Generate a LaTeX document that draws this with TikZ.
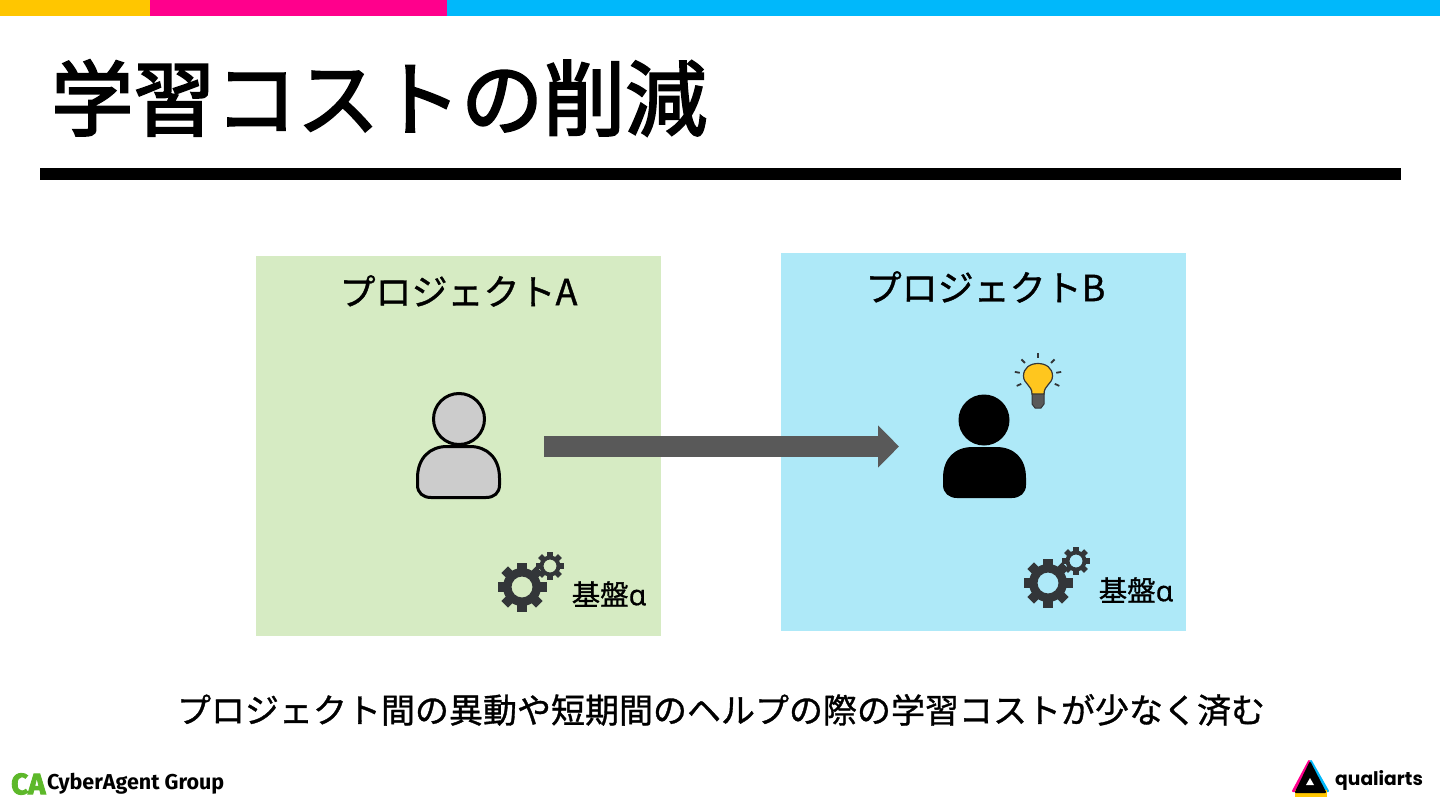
\documentclass[tikz,border=0pt]{standalone}
\usepackage{fontspec}
\setmainfont[FakeBold=1]{Noto Sans CJK JP}
\newfontfamily\titlefont[FakeBold=2.6]{Noto Sans CJK JP}
\newfontfamily\latinfont[FakeBold=0.4]{Noto Sans}
\newfontfamily\logofont{Fira Sans}
\newfontfamily\cafont[FakeBold=3]{Fira Sans}
\newfontfamily\artsfont{Poppins}
\usetikzlibrary{arrows.meta}
\definecolor{barY}{HTML}{FFC600}
\definecolor{barP}{HTML}{FF008C}
\definecolor{barB}{HTML}{00B8FB}
\definecolor{boxA}{HTML}{D6EBC3}
\definecolor{boxB}{HTML}{AEE9F8}
\definecolor{gearC}{HTML}{333639}
\definecolor{caG}{HTML}{5DB82A}
\definecolor{bulbC}{HTML}{FFC61E}
\tikzset{
  panel/.style={minimum width=405pt,inner sep=0pt,outer sep=0pt,anchor=north west},
  panelname/.style={font=\fontsize{36}{36}\selectfont,inner sep=0pt},
  kiban/.style={font=\fontsize{28.5}{28.5}\selectfont,inner sep=0pt},
  logotext/.style={inner sep=0pt,anchor=west}
}
% one gear: centre, tooth radius, body radius, hole radius, number of teeth
\newcommand{\gearwheel}[5]{
  \begin{scope}[shift={(#1)}]
    \foreach \a in {1,...,#5}
      \fill[gearC,rotate=\a*360/#5] (-#2*.19,#3*.9)--(-#2*.19,#2)--(#2*.19,#2)--(#2*.19,#3*.9)--cycle;
    \fill[gearC,even odd rule] (0,0) circle (#3) (0,0) circle (#4);
  \end{scope}
}
\begin{document}
\begin{tikzpicture}[x=1pt,y=-1pt,>=stealth]
\useasboundingbox (0,0) rectangle (1440,810);
% top bars
\fill[barY](0,0) rectangle (150,16);
\fill[barP](150,0) rectangle (447,16);
\fill[barB](447,0) rectangle (1440,16);
\node[inner sep=0pt,anchor=west,font=\titlefont\fontsize{82}{82}\selectfont] (title) at (51,98) {学習コストの削減};
\fill(40,168) rectangle (1401,180);
% panels
\node[panel,fill=boxA,minimum height=380pt] (prjA) at (256,256) {};
\node[panel,fill=boxB,minimum height=378pt] (prjB) at (781,253) {};
\node[panelname] (nameA) at (458.5,291) {プロジェクトA};
\node[panelname] (nameB) at (985.5,287) {プロジェクトB};
% person A
\fill[black!20,draw=black,line width=3pt](459,419) circle (25.5);
\draw[fill=black!20,line width=3pt]
  (417.5,478) .. controls (417.5,458) and (430,446.5) .. (447,446.5)
  -- (470,446.5) .. controls (487,446.5) and (499.5,458) .. (499.5,478)
  -- (499.5,485) .. controls (499.5,493) and (494,497.5) .. (486,497.5)
  -- (431,497.5) .. controls (423,497.5) and (417.5,493) .. (417.5,485) -- cycle;
% person B
\fill(984,420) circle (25.5);
\fill
  (943,478) .. controls (943,458) and (955,447) .. (973,447)
  -- (996,447) .. controls (1014,447) and (1026,458) .. (1026,478)
  -- (1026,485) .. controls (1026,493) and (1020,498) .. (1012,498)
  -- (957,498) .. controls (949,498) and (943,493) .. (943,485) -- cycle;
% bulb
\fill[black!65,draw=gearC,line width=1pt]
  (1032,393) -- (1044,393) -- (1044,404) -- (1041,408) -- (1035,408) -- (1032,404) -- cycle;
\draw[fill=bulbC,draw=gearC,line width=1.2pt]
  (1032,394) .. controls (1032,385) and (1023.5,384) .. (1023.5,376)
  .. controls (1023.5,368) and (1030,363.5) .. (1038,363.5)
  .. controls (1046,363.5) and (1052.5,368) .. (1052.5,376)
  .. controls (1052.5,384) and (1044,385) .. (1044,394) -- cycle;
\foreach \a in {-135,-90,-45,-10,25,155,190}
  \draw[gearC,line width=1.8pt] (1038,376)++(\a:18.5) -- ++(\a:5);
% gears
\gearwheel{522,587}{24.5}{19}{10.5}{8}
\gearwheel{550,566}{14}{10.5}{6.5}{8}
\gearwheel{1048,583}{24.5}{19}{10.5}{8}
\gearwheel{1076,561}{14}{10.5}{6.5}{8}
\node[kiban,anchor=west] (kibanA) at (571.5,594) {基盤{\latinfont α}};
\node[kiban,anchor=west] (kibanB) at (1098.5,590) {基盤{\latinfont α}};
% move
\coordinate (from) at (544,446.5);
\coordinate (to) at (899,446.5);
\draw[color=black!65,line width=21pt,-{Triangle[length=21pt,width=41pt]}](from)--(to);
\node[inner sep=0pt,font=\fontsize{34}{34}\selectfont] (note) at (721,710)
  {プロジェクト間の異動や短期間のヘルプの際の学習コストが少なく済む};
% logos
\node[logotext,text=caG,font=\cafont\bfseries\fontsize{29.5}{29.5}\selectfont] (ca) at (11,784) {CA};
\node[logotext,font=\logofont\bfseries\fontsize{21.5}{21.5}\selectfont] (cyber) at (47,784) {CyberAgent Group};
\fill[barP,line join=round,draw=barP,line width=2pt](1309,761)--(1293,791)--(1310,791)--cycle;
\fill[barB,line join=round,draw=barB,line width=2pt](1311,761)--(1328,791)--(1310,791)--cycle;
\fill[barY](1295,790) rectangle (1327,797);
\fill[line join=round,draw=black,line width=2pt](1310,763)--(1296,792)--(1325,792)--cycle;
\fill[white](1310,778)--(1306,785)--(1314,785)--cycle;
\node[logotext,font=\artsfont\bfseries\fontsize{18.7}{18.7}\selectfont] (arts) at (1335,780) {qualiarts};
\end{tikzpicture}
\end{document}
